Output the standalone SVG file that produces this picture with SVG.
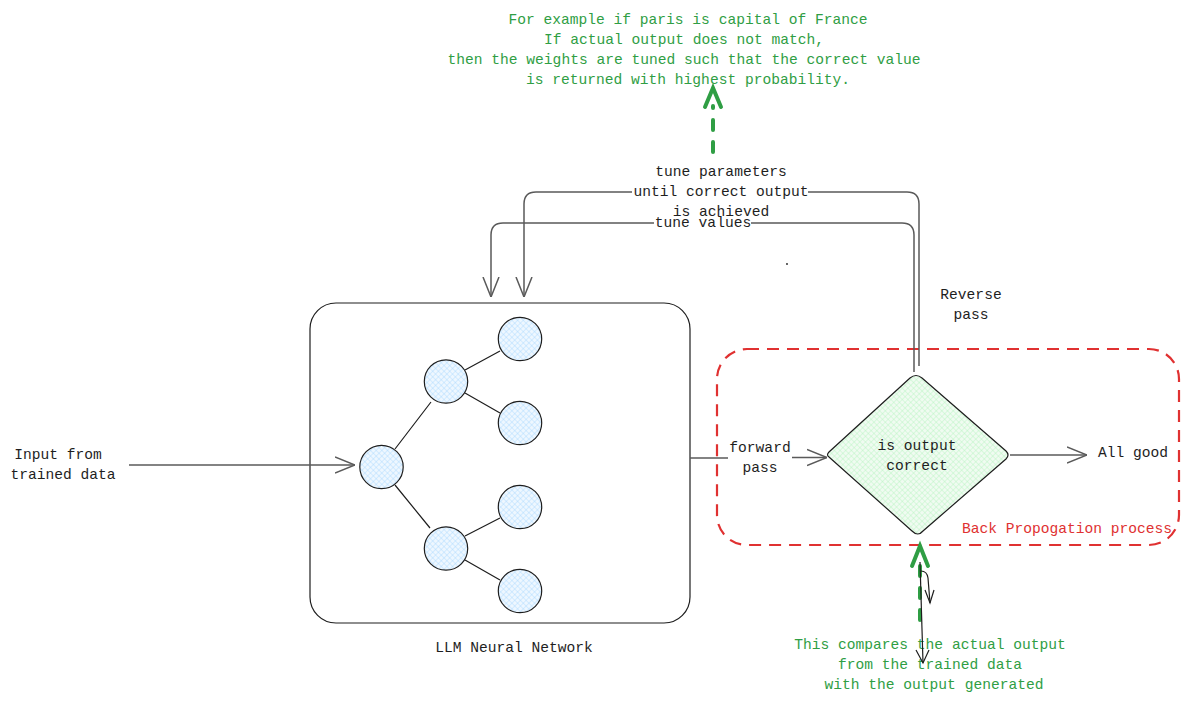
<svg xmlns="http://www.w3.org/2000/svg" width="1199" height="705" viewBox="0 0 1199 705">
<defs>
<pattern id="hb" width="4" height="4" patternUnits="userSpaceOnUse" patternTransform="rotate(45)">
<rect width="4" height="4" fill="#eef7ff"/>
<path d="M0 0H4M0 0V4" stroke="#a5d8ff" stroke-width="0.8"/>
</pattern>
<pattern id="hg" width="4" height="4" patternUnits="userSpaceOnUse" patternTransform="rotate(45)">
<rect width="4" height="4" fill="#f0fbf1"/>
<path d="M0 0H4M0 0V4" stroke="#b2f2bb" stroke-width="0.8"/>
</pattern>
<marker id="ah" viewBox="0 0 20 20" refX="20" refY="10" markerWidth="20" markerHeight="20" markerUnits="userSpaceOnUse" orient="auto">
<path d="M0 2L20 10L0 18" fill="none" stroke="#5a5a5a" stroke-width="1.5"/>
</marker>
<marker id="ahk" viewBox="0 0 20 20" refX="20" refY="10" markerWidth="20" markerHeight="20" markerUnits="userSpaceOnUse" orient="auto">
<path d="M0 3L20 10L0 17" fill="none" stroke="#1e1e1e" stroke-width="1.2"/>
</marker>
</defs>
<style>
text{font-family:"Liberation Mono","DejaVu Sans Mono",monospace;font-size:14.6px;fill:#1e1e1e;text-anchor:middle}
.g{fill:#2f9e44}
.r{fill:#e03131}
.c{stroke:#5a5a5a;stroke-width:1.5;fill:none}
.k{stroke:#1e1e1e;stroke-width:1.2;fill:none}
.n{fill:url(#hb);stroke:#1e1e1e;stroke-width:1.2}
.gd{stroke:#2f9e44;stroke-width:4;fill:none;stroke-linecap:round}
</style>

<g id="network-box">
<rect x="310" y="303" width="380" height="320" rx="26" fill="none" stroke="#1e1e1e" stroke-width="1.2"/>
<text x="514" y="652">LLM Neural Network</text>
</g>

<g id="tree-edges">
<path class="k" d="M395 449L431 402M395 485L430 528M465 370L500 351M465 393L500 413M465 536L500 518M465 560L500 580"/>
</g>
<g id="n0"><circle class="n" cx="381.5" cy="467" r="21.7"/></g>
<g id="n1"><circle class="n" cx="446" cy="381.5" r="21.7"/></g>
<g id="n2"><circle class="n" cx="446" cy="548.5" r="21.7"/></g>
<g id="n3"><circle class="n" cx="520" cy="339" r="21.7"/></g>
<g id="n4"><circle class="n" cx="520" cy="423" r="21.7"/></g>
<g id="n5"><circle class="n" cx="520" cy="507" r="21.7"/></g>
<g id="n6"><circle class="n" cx="520" cy="591" r="21.7"/></g>

<g id="input-label">
<text x="58" y="459">Input from</text>
<text x="63" y="479">trained data</text>
</g>

<g id="backprop-frame">
<rect x="717" y="349" width="462" height="196" rx="30" fill="none" stroke="#e03131" stroke-width="2.2" stroke-dasharray="12 8"/>
<text class="r" x="1067" y="533">Back Propogation process</text>
</g>

<g id="decision">
<path d="M829 457Q826 455 829 452L910 378Q916 373 922 378L1006 451Q1010 455 1006 459L923 531Q918 537 912 531Z" fill="url(#hg)" stroke="#1e1e1e" stroke-width="1.2"/>
<text x="917" y="450">is output</text>
<text x="917" y="470">correct</text>
</g>

<g id="all-good">
<text x="1133" y="457">All good</text>
</g>

<g id="reverse-label">
<text x="971" y="299">Reverse</text>
<text x="971" y="319">pass</text>
</g>

<g id="top-note">
<text class="g" x="688" y="24">For example if paris is capital of France</text>
<text class="g" x="684" y="44">If actual output does not match,</text>
<text class="g" x="684" y="64">then the weights are tuned such that the correct value</text>
<text class="g" x="688" y="84">is returned with highest probability.</text>
</g>

<g id="bottom-note">
<text class="g" x="930" y="649">This compares the actual output</text>
<text class="g" x="930" y="669">from the trained data</text>
<text class="g" x="934" y="689">with the output generated</text>
</g>

<g id="connectors">
<line class="c" x1="129" y1="465" x2="355" y2="465" marker-end="url(#ah)"/>
<line class="c" x1="690" y1="458" x2="728" y2="458"/>
<line class="c" x1="792" y1="457.5" x2="827" y2="457.5" marker-end="url(#ah)"/>
<text x="760" y="452">forward</text>
<text x="760" y="472">pass</text>
<line class="c" x1="1010" y1="455" x2="1087" y2="455" marker-end="url(#ah)"/>
<path class="c" d="M919 366V204Q919 192 907 192H808M632 192H536Q524 192 524 204V297" marker-end="url(#ah)"/>
<path class="c" d="M914 372V235Q914 223 902 223H751M654 223H503Q491 223 491 235V297" marker-end="url(#ah)"/>
<text x="721" y="176">tune parameters</text>
<text x="721" y="196">until correct output</text>
<text x="721" y="216">is achieved</text>
<text x="703" y="227">tune values</text>
<circle cx="787" cy="264" r="0.9" fill="#1e1e1e"/>
<path class="gd" d="M713 152V106" stroke-dasharray="10 12"/>
<path class="gd" d="M705 107L713 88L721 107"/>
<path class="gd" d="M920 620V563" stroke-dasharray="10 12"/>
<path class="gd" d="M912 566L920 546L928 566"/>
<path class="k" d="M920 562L923 663"/>
<path class="k" d="M916 650L923 663L929 650"/>
<path class="k" d="M921 571Q927 571 928 578L930 603"/>
<path class="k" d="M925 590L930 603L934 590"/>
</g>
</svg>
